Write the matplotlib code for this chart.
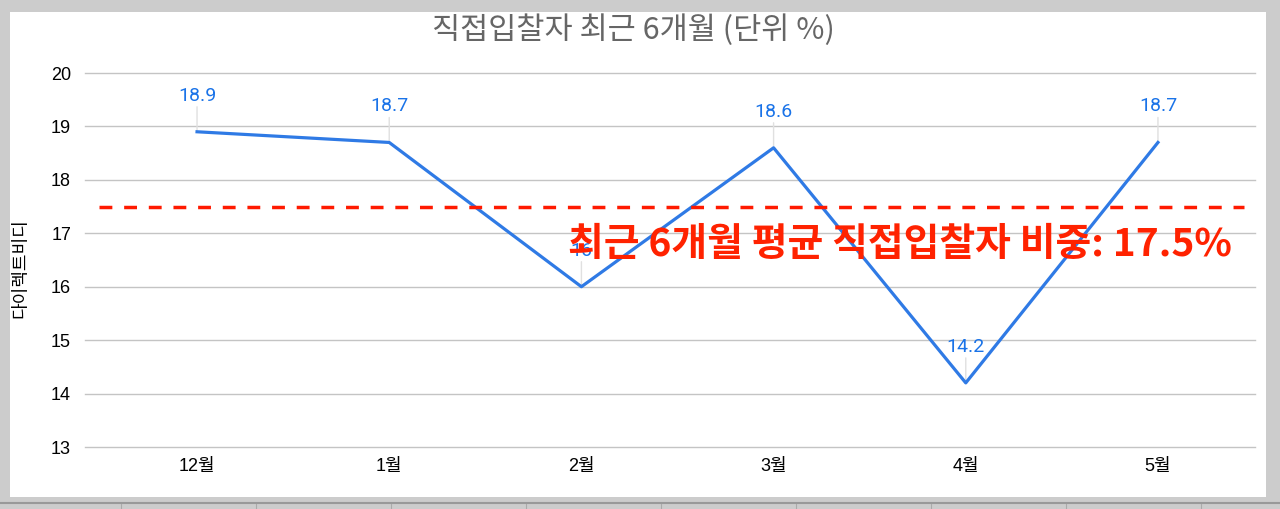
import matplotlib
matplotlib.use('Agg')
import matplotlib.pyplot as plt
from matplotlib.patches import Rectangle
from matplotlib.lines import Line2D

months = ['12월', '1월', '2월', '3월', '4월', '5월']
share = [18.9, 18.7, 16, 18.6, 14.2, 18.7]
avg_share = 17.5
y_ticks = [13, 14, 15, 16, 17, 18, 19, 20]

title = '직접입찰자 최근 6개월 (단위 %)'
y_label = '다이렉트비디'
avg_text = '최근 6개월 평균 직접입찰자 비중: 17.5%'

plt.rcParams['font.family'] = ['Liberation Sans', 'Noto Sans CJK KR', 'DejaVu Sans']

W, H = 1280, 509
fig = plt.figure(figsize=(12.8, 5.09), dpi=100)
fig.patch.set_facecolor('#cccccc')

#white chart panel like the spreadsheet screenshot
fig.patches.append(Rectangle((10 / W, 1 - 497 / H), 1256 / W, 485 / H,
                             transform=fig.transFigure, facecolor='white',
                             edgecolor='none', zorder=-5))
fig.lines.append(Line2D([0, 1], [1 - 503 / H] * 2, transform=fig.transFigure,
                        color='#999999', lw=1.5, zorder=-4))
for xs in [121, 256, 391, 526, 661, 796, 931, 1066, 1201]:
    fig.lines.append(Line2D([xs / W] * 2, [0, 1 - 504 / H], transform=fig.transFigure,
                            color='#aaaaaa', lw=0.8, zorder=-4))

ax = fig.add_axes([85 / W, 1 - 447 / H, (1255 - 85) / W, (447 - 73) / H])
ax.set_facecolor('none')
x = list(range(len(months)))

ax.plot(x, share, color='#2f7ae5', lw=2.3, zorder=3)

for xi, v in zip(x, share):
    ax.annotate('', xy=(xi, v), xytext=(0, 18), textcoords='offset points',
                arrowprops=dict(arrowstyle='-', color='#e0e0e0', lw=1,
                                shrinkA=0, shrinkB=0), zorder=2)
    label = f'{v:g}'
    ax.annotate(label, xy=(xi, v), xytext=(0, 26), textcoords='offset points',
                ha='center', va='center', color='#1a73e8', fontsize=14,
                family=['Roboto', 'DejaVu Sans'], zorder=4)

ax.axhline(avg_share, xmin=0.012, xmax=0.991, color='#ff1a00', lw=2.5,
           dashes=(3.7, 3.4), zorder=5)
ax.text(5.385, 16.87, avg_text, ha='right', va='center_baseline', color='#ff2200',
        fontsize=28, fontweight='bold',
        family=['Noto Sans CJK KR', 'DejaVu Sans'], zorder=6)

ax.set_xlim(-0.583, 5.505)
ax.set_ylim(13, 20)
ax.set_yticks(y_ticks)
ax.set_xticks(x)
ax.set_xticklabels(months)
ax.tick_params(axis='both', length=0, labelsize=13, colors='#000000')
ax.tick_params(axis='y', pad=10)
ax.tick_params(axis='x', pad=8)
ax.grid(axis='y', color='#c4c4c4', lw=1)
for gl in ax.get_ygridlines():
    gl.set_clip_on(False)
ax.set_axisbelow(True)
for s in ax.spines.values():
    s.set_visible(False)

fig.text(633 / W, 1 - 30 / H, title, ha='center', va='center', color='#666666',
         fontsize=22, family=['Noto Sans CJK KR', 'DejaVu Sans'])
fig.text(20 / W, 1 - 268 / H, y_label, ha='center', va='center', rotation=90,
         fontsize=13, color='#000000', family=['Noto Sans CJK KR', 'DejaVu Sans'])

fig.savefig('out.png', dpi=100, facecolor=fig.get_facecolor())
